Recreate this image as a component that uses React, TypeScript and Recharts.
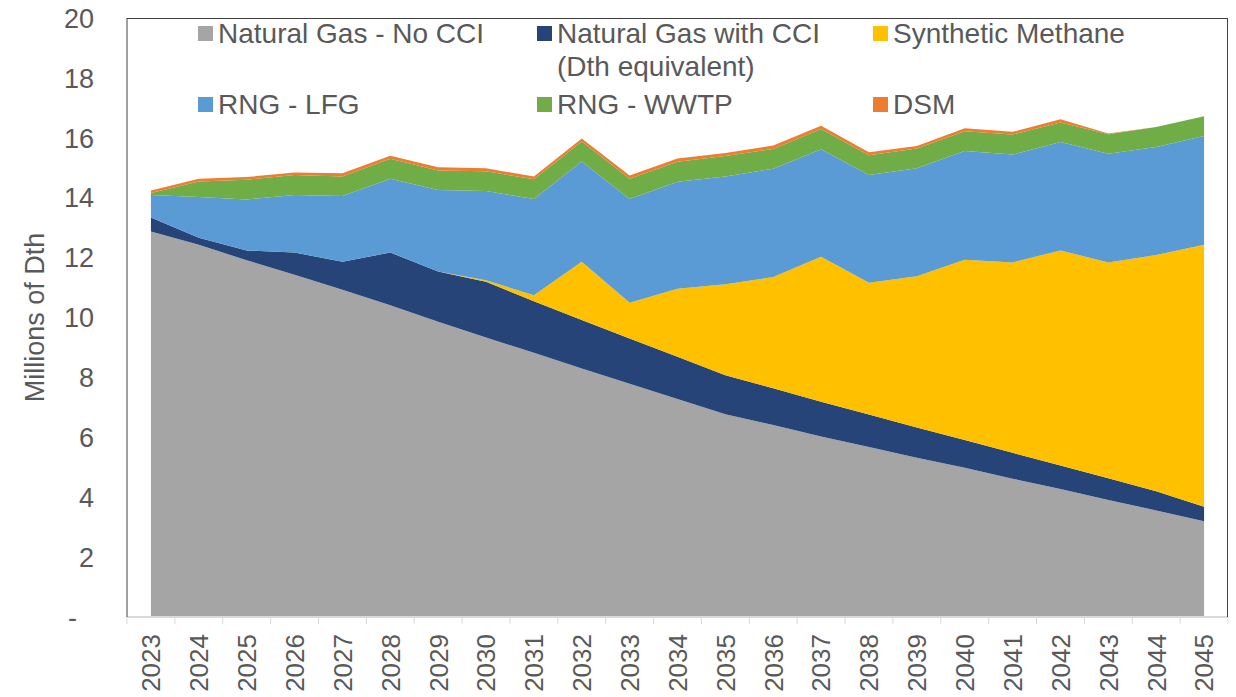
import { AreaChart, Area, XAxis, YAxis, Legend } from 'recharts'

const years = [
  '2023', '2024', '2025', '2026', '2027', '2028', '2029', '2030', '2031', '2032', '2033', '2034',
  '2035', '2036', '2037', '2038', '2039', '2040', '2041', '2042', '2043', '2044', '2045',
]

// millions of Dth, per source (stacked bottom to top)
const naturalGasNoCci = [
  12.87, 12.43, 11.91, 11.43, 10.93, 10.41, 9.86, 9.33, 8.82, 8.3, 7.79, 7.28,
  6.77, 6.41, 6.03, 5.68, 5.32, 4.98, 4.62, 4.27, 3.91, 3.56, 3.2,
]
const naturalGasWithCci = [
  0.47, 0.23, 0.33, 0.74, 0.93, 1.76, 1.68, 1.86, 1.72, 1.62, 1.51, 1.41,
  1.3, 1.23, 1.16, 1.08, 1.01, 0.93, 0.86, 0.79, 0.72, 0.64, 0.48,
]
const syntheticMethane = [
  0, 0, 0, 0, 0, 0, 0, 0.05, 0.2, 1.94, 1.19, 2.27,
  3.04, 3.71, 4.84, 4.4, 5.05, 6.02, 6.36, 7.18, 7.21, 7.89, 8.75,
]
const rngLfg = [
  0.75, 1.36, 1.7, 1.92, 2.2, 2.46, 2.72, 2.98, 3.22, 3.35, 3.47, 3.57,
  3.6, 3.62, 3.59, 3.6, 3.6, 3.63, 3.6, 3.62, 3.63, 3.6, 3.63,
]
const rngWwtp = [
  0.07, 0.52, 0.66, 0.67, 0.65, 0.67, 0.65, 0.66, 0.66, 0.67, 0.67, 0.67,
  0.68, 0.66, 0.67, 0.66, 0.66, 0.66, 0.67, 0.65, 0.65, 0.67, 0.66,
]
const dsm = [
  0.08, 0.09, 0.09, 0.08, 0.11, 0.1, 0.11, 0.1, 0.09, 0.1, 0.11, 0.11,
  0.1, 0.11, 0.11, 0.1, 0.09, 0.1, 0.09, 0.11, 0.02, 0, 0,
]

const yTicks = [0, 2, 4, 6, 8, 10, 12, 14, 16, 18, 20]
const yTickLabels = ['-', '2', '4', '6', '8', '10', '12', '14', '16', '18', '20']

const series = [
  { key: 'ngNoCci', name: 'Natural Gas - No CCI', color: '#A5A5A5', values: naturalGasNoCci },
  { key: 'ngCci', name: 'Natural Gas with CCI (Dth equivalent)', color: '#264478', values: naturalGasWithCci },
  { key: 'synth', name: 'Synthetic Methane', color: '#FFC000', values: syntheticMethane },
  { key: 'lfg', name: 'RNG - LFG', color: '#5B9BD5', values: rngLfg },
  { key: 'wwtp', name: 'RNG - WWTP', color: '#70AD47', values: rngWwtp },
  { key: 'dsm', name: 'DSM', color: '#ED7D31', values: dsm },
]

const data = years.map((year, i) => {
  const row: Record<string, string | number> = { year }
  series.forEach((s) => { row[s.key] = s.values[i] })
  return row
})

const W = 1236
const H = 697
const PLOT_LEFT = 127
const PLOT_RIGHT = 1228
const PLOT_TOP = 18
const PLOT_BOTTOM = 617
const HALF_BAND = (PLOT_RIGHT - PLOT_LEFT) / years.length / 2
const FONT = '"Liberation Sans", Arial, sans-serif'
const TEXT = '#595959'

function XTick(props: any) {
  const { x, y, payload, index } = props
  const last = index === years.length - 1
  return (
    <g>
      <line x1={x - HALF_BAND} x2={x - HALF_BAND} y1={PLOT_BOTTOM} y2={PLOT_BOTTOM + 7} stroke="#d9d9d9" />
      {last && <line x1={x + HALF_BAND} x2={x + HALF_BAND} y1={PLOT_BOTTOM} y2={PLOT_BOTTOM + 7} stroke="#d9d9d9" />}
      <text
        x={x}
        y={y}
        dy="0.36em"
        textAnchor="end"
        transform={`rotate(-90, ${x}, ${y})`}
        fill={TEXT}
        fontSize={26}
        fontFamily={FONT}
      >
        {payload.value}
      </text>
    </g>
  )
}

function YTick(props: any) {
  const { x, y, payload } = props
  const i = yTicks.indexOf(payload.value)
  const label = yTickLabels[i]
  return (
    <text x={label === '-' ? x - 17 : x} y={y} dy="0.36em" textAnchor="end" fill={TEXT} fontSize={27} fontFamily={FONT}>
      {label}
    </text>
  )
}

function YLabel(props: any) {
  const { viewBox } = props
  const cy = viewBox.y + viewBox.height / 2
  const cx = 34
  return (
    <text x={cx} y={cy} dy="0.36em" textAnchor="middle" transform={`rotate(-90, ${cx}, ${cy})`} fill={TEXT} fontSize={27} fontFamily={FONT}>
      Millions of Dth
    </text>
  )
}

function LegendBox() {
  const cols = [339, 336, 300]
  return (
    <div style={{ display: 'grid', gridTemplateColumns: cols.map((c) => c + 'px').join(' '), rowGap: 5, fontFamily: FONT }}>
      {series.map((s) => (
        <div key={s.key} style={{ display: 'flex', alignItems: 'flex-start' }}>
          <span style={{ width: 15, height: 15, background: s.color, marginTop: 9, marginRight: 5, flex: 'none' }} />
          <span style={{ fontSize: 28, lineHeight: '33px', color: TEXT, maxWidth: 290 }}>{s.name}</span>
        </div>
      ))}
    </div>
  )
}

export default function App() {
  return (
    <div style={{ position: 'fixed', left: 0, top: 0, width: W, height: H, background: '#fff' }}>
      <AreaChart
        width={W}
        height={H}
        data={data}
        margin={{ top: PLOT_TOP, right: W - PLOT_RIGHT, bottom: 0, left: 0 }}
      >
        <XAxis
          dataKey="year"
          height={H - PLOT_BOTTOM}
          padding={{ left: HALF_BAND, right: HALF_BAND }}
          axisLine={{ stroke: '#d9d9d9', strokeWidth: 2 }}
          tickLine={false}
          tickSize={0}
          tickMargin={17}
          interval={0}
          tick={<XTick />}
        />
        <YAxis
          width={PLOT_LEFT}
          domain={[0, 20]}
          ticks={yTicks}
          interval={0}
          axisLine={{ stroke: '#404040' }}
          tickLine={false}
          tickSize={0}
          tickMargin={33}
          tick={<YTick />}
          label={{ content: <YLabel /> }}
        />
        <Legend
          layout="vertical"
          align="center"
          verticalAlign="middle"
          wrapperStyle={{ top: 17, left: 198, width: 1000 }}
          content={<LegendBox />}
        />
        {series.map((s) => (
          <Area
            key={s.key}
            type="linear"
            dataKey={s.key}
            name={s.name}
            stackId="1"
            fill={s.color}
            fillOpacity={1}
            stroke="none"
            isAnimationActive={false}
          />
        ))}
      </AreaChart>
      {/* plot-area frame */}
      <div
        style={{
          position: 'absolute',
          left: PLOT_LEFT,
          top: PLOT_TOP,
          width: PLOT_RIGHT - PLOT_LEFT,
          height: PLOT_BOTTOM - PLOT_TOP,
          borderTop: '1px solid #404040',
          borderRight: '1px solid #404040',
          boxSizing: 'border-box',
          pointerEvents: 'none',
        }}
      />
    </div>
  )
}
